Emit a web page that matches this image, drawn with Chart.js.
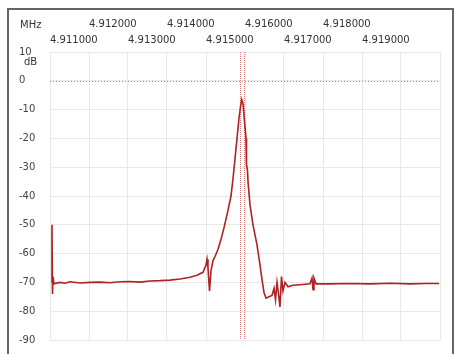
<!DOCTYPE html>
<html lang="en">
<head>
    <meta charset="UTF-8">
    <title>Spectrum</title>
    <script src="https://cdn.jsdelivr.net/npm/chart.js"></script>
    <style>
        body { margin: 0; background: #fff; }
        #wrap { width: 457px; height: 354px; }
    </style>
</head>
<body>
<div id="wrap"><canvas id="spec" width="457" height="354"></canvas></div>
<script>
// frequency (MHz) and level (dB) of the trace
const freqs = [
    4.911038, 4.911051, 4.911064, 4.911077, 4.911103, 4.911256, 4.911385, 4.911513,
    4.911769, 4.912026, 4.912282, 4.912538, 4.912795, 4.913051, 4.913308, 4.913564,
    4.913821, 4.914077, 4.914333, 4.914590, 4.914769, 4.914923, 4.915000, 4.915026,
    4.915051, 4.915090, 4.915128, 4.915179, 4.915231, 4.915308, 4.915385, 4.915462,
    4.915564, 4.915641, 4.915692, 4.915744, 4.915795, 4.915846, 4.915885, 4.915915,
    4.915949, 4.915987, 4.916026, 4.916038, 4.916064, 4.916077, 4.916128, 4.916205,
    4.916308, 4.916385, 4.916436, 4.916487, 4.916538, 4.916615, 4.916692, 4.916744,
    4.916782, 4.916821, 4.916859, 4.916897, 4.916936, 4.916974, 4.917026, 4.917103,
    4.917231, 4.917410, 4.917667, 4.917718, 4.917744, 4.917769, 4.917821, 4.918179,
    4.918692, 4.919205, 4.919718, 4.920231, 4.920615, 4.920974
];
const levels = [
    -70, -50, -74, -68, -70.5, -70, -70.3, -69.8,
    -70.2, -70, -69.9, -70.1, -69.8, -69.7, -69.9, -69.5,
    -69.4, -69.2, -68.8, -68.2, -67.5, -66.5, -64, -62,
    -65, -73, -66, -62.5, -61, -58.5, -55, -51,
    -45, -40, -34, -27, -20, -13, -9, -6.5,
    -8, -14, -20, -29, -31, -35, -43, -50,
    -57, -64, -69, -73.5, -75.5, -75, -74.5, -72,
    -76, -70, -74, -78.5, -68, -73, -70, -71.5,
    -71, -70.8, -70.5, -68.5, -72.5, -68.5, -70.5, -70.5,
    -70.4, -70.5, -70.3, -70.5, -70.4, -70.4
];
const xMin = 4.911, xMax = 4.921, xStep = 0.001;
const yTicks = [10, 0, -10, -20, -30, -40, -50, -60, -70, -80, -90];
const markerFreq = 4.915923;

const extras = {
    id: 'extras',
    beforeDatasetsDraw(chart) {
        const { ctx, chartArea: a, scales } = chart;
        ctx.save();
        // zero line
        const y0 = Math.round(scales.y.getPixelForValue(0)) + 0.5;
        ctx.strokeStyle = '#8a8a8a';
        ctx.lineWidth = 1;
        ctx.setLineDash([1, 2]);
        ctx.beginPath(); ctx.moveTo(a.left, y0); ctx.lineTo(a.right, y0); ctx.stroke();
        // marker
        const xm = Math.round(scales.x.getPixelForValue(markerFreq));
        ctx.strokeStyle = 'rgba(205,70,70,0.7)';
        ctx.setLineDash([1, 1]);
        [-2, 2].forEach(d => {
            ctx.beginPath(); ctx.moveTo(xm + d + 0.5, a.top); ctx.lineTo(xm + d + 0.5, a.bottom); ctx.stroke();
        });
        ctx.restore();
    },
    afterDraw(chart) {
        const ctx = chart.ctx;
        ctx.save();
        ctx.font = '10px "DejaVu Sans"';
        ctx.fillStyle = '#333';
        ctx.textBaseline = 'middle';
        ctx.fillText('MHz', 20, 25);
        ctx.fillText('dB', 24, 62);
        ctx.strokeStyle = '#666';
        ctx.lineWidth = 2;
        ctx.strokeRect(8, 9, 445, 360);
        ctx.restore();
    }
};

new Chart(document.getElementById('spec'), {
    type: 'line',
    data: {
        datasets: [{
            data: freqs.map((f, i) => ({ x: f, y: levels[i] })),
            borderColor: '#ad2222',
            borderWidth: 1.6,
            pointRadius: 0,
            tension: 0
        }]
    },
    options: {
        responsive: false,
        animation: false,
        layout: { padding: { left: 19, right: 17, top: 8, bottom: 14 } },
        plugins: { legend: { display: false }, tooltip: { enabled: false } },
        scales: {
            x: {
                type: 'linear',
                position: 'top',
                min: xMin,
                max: xMax,
                border: { display: false },
                grid: { color: '#e8e8e8', drawTicks: false },
                afterFit: s => { s.height = 44; },
                ticks: {
                    stepSize: xStep,
                    autoSkip: false,
                    maxRotation: 0,
                    minRotation: 0,
                    align: 'start',
                    padding: 4,
                    color: '#333',
                    font: { family: 'DejaVu Sans', size: 10, lineHeight: 1.55 },
                    callback: v => {
                        const k = Math.round((v - xMin) / xStep);
                        if (k > 8) return '';
                        const t = (xMin + k * xStep).toFixed(6);
                        return k % 2 === 0 ? ['', t] : [t, ''];
                    }
                }
            },
            y: {
                min: -90,
                max: 10,
                border: { display: false },
                grid: { color: '#e8e8e8', drawTicks: false },
                afterFit: s => { s.width = 31; },
                afterBuildTicks: s => { s.ticks = yTicks.map(v => ({ value: v })); },
                ticks: {
                    crossAlign: 'far',
                    color: '#444',
                    font: { family: 'DejaVu Sans', size: 10 }
                }
            }
        }
    },
    plugins: [extras]
});
</script>
</body>
</html>
